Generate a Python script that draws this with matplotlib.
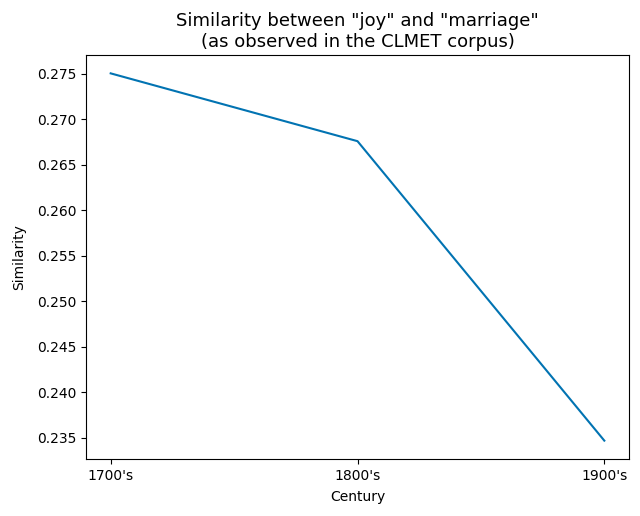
import matplotlib
matplotlib.use("Agg")
import matplotlib.pyplot as plt

centuries = ["1700's", "1800's", "1900's"]
similarity = [0.27505, 0.26760, 0.23470]

fig = plt.figure(figsize=(6.4, 5.16), dpi=100)
ax = fig.add_axes([86/640, 1 - 459/516, (629-86)/640, (459-55)/516])
ax.plot(centuries, similarity, color="#0173b2", linewidth=1.5)
ax.set_title('Similarity between "joy" and "marriage"\n(as observed in the CLMET corpus)', fontsize=13)
ax.set_xlabel("Century", labelpad=5.5)
ax.set_ylabel("Similarity", labelpad=7.5)
fig.savefig("out.png", dpi=100)
